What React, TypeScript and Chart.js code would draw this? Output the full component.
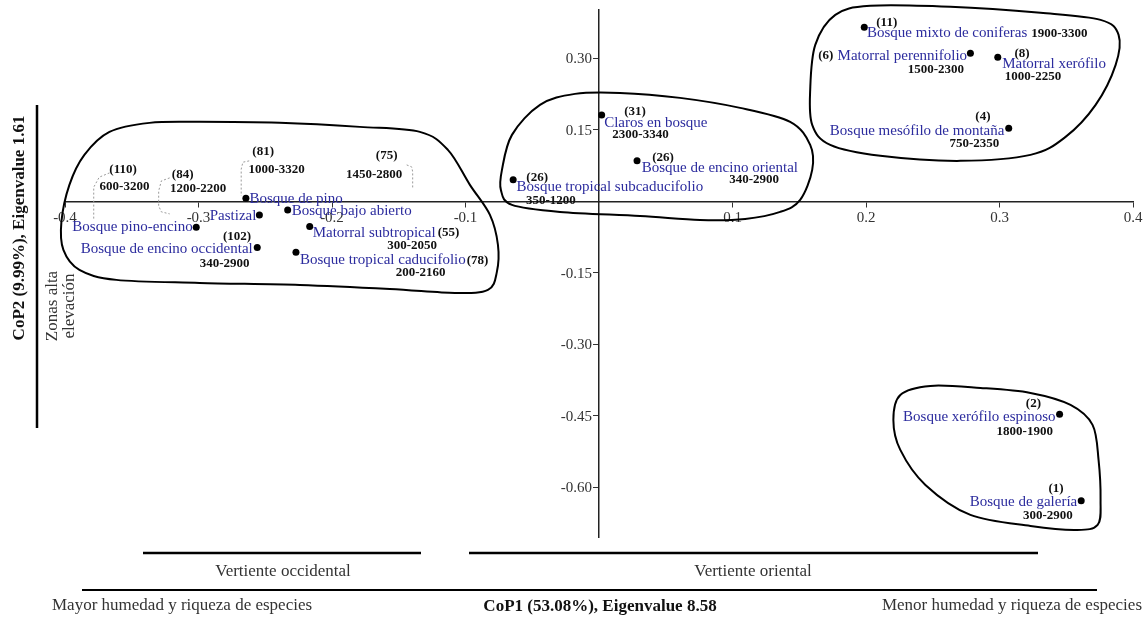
import React, { useEffect, useRef } from "react";
import { Chart, registerables } from "chart.js";

Chart.register(...registerables);

// ---------------- DATA ----------------
const vegetationTypes = [
  "Bosque de pino",
  "Pastizal",
  "Bosque bajo abierto",
  "Bosque pino-encino",
  "Bosque de encino occidental",
  "Matorral subtropical",
  "Bosque tropical caducifolio",
  "Claros en bosque",
  "Bosque de encino oriental",
  "Bosque tropical subcaducifolio",
  "Bosque mixto de coniferas",
  "Matorral perennifolio",
  "Matorral xerófilo",
  "Bosque mesófilo de montaña",
  "Bosque xerófilo espinoso",
  "Bosque de galería",
];

const cop1Scores = [
  -0.2645, -0.2544, -0.2332, -0.3017, -0.256, -0.2167, -0.227, 0.002, 0.0285,
  -0.0643, 0.1987, 0.2782, 0.2987, 0.3069, 0.345, 0.3612,
];

const cop2Scores = [
  0.0067, -0.0284, -0.0179, -0.0542, -0.0971, -0.0529, -0.1067, 0.1817, 0.0851,
  0.0452, 0.366, 0.3113, 0.3029, 0.1538, -0.4471, -0.6286,
];

const plotCounts = [
  "(81)", "(84)", "(75)", "(110)", "(102)", "(55)", "(78)", "(31)", "(26)",
  "(26)", "(11)", "(6)", "(8)", "(4)", "(2)", "(1)",
];

const elevationRanges = [
  "1000-3320", "1200-2200", "1450-2800", "600-3200", "340-2900", "300-2050",
  "200-2160", "2300-3340", "340-2900", "350-1200", "1900-3300", "1500-2300",
  "1000-2250", "750-2350", "1800-1900", "300-2900",
];

const xTickValues = [-0.4, -0.3, -0.2, -0.1, 0.1, 0.2, 0.3, 0.4];
const yTickValues = [0.3, 0.15, -0.15, -0.3, -0.45, -0.6];

// group outlines (data units)
const hullWest = [
  [-0.4027, -0.0431], [-0.3967, 0.0347], [-0.3855, 0.0977], [-0.3667, 0.146],
  [-0.3367, 0.1649], [-0.2992, 0.167], [-0.2392, 0.1649], [-0.1792, 0.1565],
  [-0.1342, 0.146], [-0.1132, 0.1082], [-0.0967, 0.0347], [-0.0817, -0.0284],
  [-0.0757, -0.0914], [-0.0765, -0.1481], [-0.0832, -0.1859], [-0.108, -0.1922],
  [-0.1567, -0.1838], [-0.2242, -0.1754], [-0.2992, -0.1712], [-0.3615, -0.1649],
  [-0.3892, -0.1439], [-0.4012, -0.1019],
];
const hullCentral = [
  [-0.0727, 0.0662], [-0.0652, 0.1397], [-0.0442, 0.2027], [-0.018, 0.2258],
  [0.0157, 0.2279], [0.0607, 0.2174], [0.1057, 0.1964], [0.1432, 0.167],
  [0.1582, 0.1187], [0.1597, 0.0662], [0.1507, 0.0032], [0.1357, -0.0221],
  [0.1095, -0.0368], [0.0757, -0.0389], [0.0307, -0.0305], [-0.0292, -0.0221],
  [-0.0652, -0.0074], [-0.0735, 0.0242],
];
const hullNorthEast = [
  [0.1582, 0.2342], [0.162, 0.3288], [0.177, 0.3918], [0.2032, 0.4107],
  [0.2632, 0.4086], [0.3307, 0.396], [0.3757, 0.3813], [0.3892, 0.3498],
  [0.387, 0.2868], [0.372, 0.2027], [0.3495, 0.1355], [0.3232, 0.0977],
  [0.2707, 0.0851], [0.2107, 0.0956], [0.1732, 0.1187], [0.1597, 0.1607],
];
const hullSouthEast = [
  [0.2205, -0.459], [0.2257, -0.4065], [0.2482, -0.3876], [0.2857, -0.3918],
  [0.3232, -0.4023], [0.3532, -0.4275], [0.3697, -0.4695], [0.3742, -0.5431],
  [0.3757, -0.6271], [0.3735, -0.6796], [0.357, -0.6901], [0.3232, -0.6817],
  [0.2782, -0.6586], [0.2445, -0.5956], [0.2257, -0.5221],
];
const groupOutlines = [hullWest, hullCentral, hullNorthEast, hullSouthEast];

// ---------------- STYLE / LAYOUT ----------------
const SERIF = "'Liberation Serif', 'Times New Roman', serif";
const BLUE = "rgb(44, 44, 158)";

// [dx, dy, align] offsets of the name, count and range texts from each point
const labelLayout = [
  { name: [3.5, 1, "left"], count: [17.3, -46.3, "center"], range: [30.8, -28.3, "center"] },
  { name: [-3, 1, "right"], count: [-76.7, -40, "center"], range: [-61.2, -26, "center"] },
  { name: [4, 1.5, "left"], count: [99, -54.3, "center"], range: [86.5, -35, "center"] },
  { name: [-3.5, 0, "right"], count: [-73.2, -57.3, "center"], range: [-71.7, -40.6, "center"] },
  { name: [-4.5, 1.5, "right"], count: [-20.2, -11, "center"], range: [-32.7, 15.6, "center"] },
  { name: [3, 7, "left"], count: [128, 6.3, "left"], range: [102.5, 19.3, "center"] },
  { name: [4, 7.5, "left"], count: [170.7, 8.4, "left"], range: [124.7, 20, "center"] },
  { name: [2.5, 7.7, "left"], count: [33.3, -3.3, "center"], range: [38.8, 20, "center"] },
  { name: [4.7, 7.3, "left"], count: [26, -3.7, "center"], range: [117, 18.3, "center"] },
  { name: [3.4, 7.3, "left"], count: [24, -2.3, "center"], range: [37.7, 20.7, "center"] },
  { name: [2.7, 6, "left"], count: [22.5, -4, "center"], range: [167, 7, "left"] },
  { name: [-3.3, 2.7, "right"], count: [-137, 2.7, "right"], range: [-34.5, 16, "center"] },
  { name: [4.4, 6.7, "left"], count: [24.2, -4, "center"], range: [35.2, 19.4, "center"] },
  { name: [-4.3, 2.7, "right"], count: [-25.8, -11.6, "center"], range: [-34.3, 15.7, "center"] },
  { name: [-4, 2.4, "right"], count: [-26.2, -11, "center"], range: [-34.8, 17.4, "center"] },
  { name: [-4, 1, "right"], count: [-25.2, -12.4, "center"], range: [-33.4, 15.3, "center"] },
];

// dotted brackets (offsets from the point they belong to)
const bracketLayout = [
  { index: 3, path: [[-86.7, -54.3], [-97, -50], [-102.5, -40], [-102.5, -7]] },
  { index: 1, path: [[-89.7, -37], [-98, -34], [-100.7, -24], [-100.7, -9], [-98, -3], [-89.7, -1]] },
  { index: 0, path: [[3.3, -37.3], [-3, -36], [-4.7, -29], [-4.7, -2.3]] },
  { index: 2, path: [[119, -45], [124, -43], [125, -38], [125, -22]] },
];

function drawClosedSpline(ctx: CanvasRenderingContext2D, pts: number[][]) {
  const n = pts.length;
  ctx.beginPath();
  ctx.moveTo(pts[0][0], pts[0][1]);
  for (let i = 0; i < n; i++) {
    const p0 = pts[(i - 1 + n) % n];
    const p1 = pts[i];
    const p2 = pts[(i + 1) % n];
    const p3 = pts[(i + 2) % n];
    const c1x = p1[0] + (p2[0] - p0[0]) / 6;
    const c1y = p1[1] + (p2[1] - p0[1]) / 6;
    const c2x = p2[0] - (p3[0] - p1[0]) / 6;
    const c2y = p2[1] - (p3[1] - p1[1]) / 6;
    ctx.bezierCurveTo(c1x, c1y, c2x, c2y, p2[0], p2[1]);
  }
  ctx.closePath();
  ctx.stroke();
}

const hullPlugin = {
  id: "groupHulls",
  beforeDatasetsDraw(chart: any) {
    const { ctx, scales } = chart;
    ctx.save();
    ctx.strokeStyle = "#000";
    ctx.lineWidth = 2;
    groupOutlines.forEach((hull) => {
      const pts = hull.map(([vx, vy]) => [
        scales.x.getPixelForValue(vx),
        scales.y.getPixelForValue(vy),
      ]);
      drawClosedSpline(ctx, pts);
    });
    ctx.restore();
  },
};

// y tick labels sit left of the centred axis (Chart.js puts them on the axis)
const yTickLabelPlugin = {
  id: "yTickLabels",
  afterDraw(chart: any) {
    const { ctx, scales } = chart;
    const ys = scales.y;
    const x0 = scales.x.getPixelForValue(0);
    ctx.save();
    ctx.font = `15px ${SERIF}`;
    ctx.fillStyle = "#333";
    ctx.textAlign = "right";
    ctx.textBaseline = "middle";
    ys.ticks.forEach((t: any) => {
      ctx.fillText(Number(t.value).toFixed(2), x0 - 7, ys.getPixelForValue(t.value) + 1);
    });
    ctx.restore();
  },
};

const labelPlugin = {
  id: "pointLabels",
  afterDatasetsDraw(chart: any) {
    const { ctx } = chart;
    const meta = chart.getDatasetMeta(0);
    ctx.save();
    ctx.textBaseline = "middle";
    ctx.strokeStyle = "#9a9a9a";
    ctx.lineWidth = 1;
    ctx.setLineDash([2, 2]);
    bracketLayout.forEach((b) => {
      const el = meta.data[b.index];
      ctx.beginPath();
      b.path.forEach(([dx, dy], k) => {
        if (k === 0) ctx.moveTo(el.x + dx, el.y + dy);
        else ctx.lineTo(el.x + dx, el.y + dy);
      });
      ctx.stroke();
    });
    ctx.setLineDash([]);
    meta.data.forEach((el: any, i: number) => {
      const lay = labelLayout[i];
      ctx.font = `15px ${SERIF}`;
      ctx.fillStyle = BLUE;
      ctx.textAlign = lay.name[2];
      ctx.fillText(vegetationTypes[i], el.x + lay.name[0], el.y + lay.name[1]);
      ctx.font = `bold 13px ${SERIF}`;
      ctx.fillStyle = "#111";
      ctx.textAlign = lay.count[2];
      ctx.fillText(plotCounts[i], el.x + lay.count[0], el.y + lay.count[1]);
      ctx.textAlign = lay.range[2];
      ctx.fillText(elevationRanges[i], el.x + lay.range[0], el.y + lay.range[1]);
    });
    ctx.restore();
  },
};

const framePlugin = {
  id: "frameTexts",
  afterDraw(chart: any) {
    const { ctx } = chart;
    ctx.save();
    ctx.strokeStyle = "#000";
    ctx.fillStyle = "#111";
    ctx.lineCap = "butt";
    ctx.lineWidth = 2.5;
    ctx.beginPath();
    ctx.moveTo(37, 105);
    ctx.lineTo(37, 428);
    ctx.stroke();
    ctx.beginPath();
    ctx.moveTo(143, 553);
    ctx.lineTo(421, 553);
    ctx.moveTo(469, 553);
    ctx.lineTo(1038, 553);
    ctx.stroke();
    ctx.lineWidth = 2;
    ctx.beginPath();
    ctx.moveTo(82, 590);
    ctx.lineTo(1097, 590);
    ctx.stroke();

    ctx.textBaseline = "middle";
    ctx.save();
    ctx.translate(20, 228);
    ctx.rotate(-Math.PI / 2);
    ctx.textAlign = "center";
    ctx.font = `bold 17px ${SERIF}`;
    ctx.fillText("CoP2 (9.99%), Eigenvalue 1.61", 0, 0);
    ctx.restore();

    ctx.save();
    ctx.translate(53, 306);
    ctx.rotate(-Math.PI / 2);
    ctx.textAlign = "center";
    ctx.font = `17px ${SERIF}`;
    ctx.fillStyle = "#333";
    ctx.fillText("Zonas alta", 0, 0);
    ctx.fillText("elevación", 0, 17);
    ctx.restore();

    ctx.font = `17px ${SERIF}`;
    ctx.fillStyle = "#333";
    ctx.textAlign = "center";
    ctx.fillText("Vertiente occidental", 283, 572);
    ctx.fillText("Vertiente oriental", 753, 572);
    ctx.textAlign = "left";
    ctx.fillText("Mayor humedad y riqueza de especies", 52, 606);
    ctx.textAlign = "right";
    ctx.fillText("Menor humedad y riqueza de especies", 1142, 606);
    ctx.textAlign = "center";
    ctx.font = `bold 17px ${SERIF}`;
    ctx.fillStyle = "#111";
    ctx.fillText("CoP1 (53.08%), Eigenvalue 8.58", 600, 607);
    ctx.restore();
  },
};

export default function App() {
  const canvasRef = useRef<HTMLCanvasElement | null>(null);

  useEffect(() => {
    const canvas = canvasRef.current;
    if (!canvas) return;
    const points = cop1Scores.map((x, i) => ({ x, y: cop2Scores[i] }));
    const tickFont = { family: SERIF, size: 15 };
    const chart = new Chart(canvas, {
      type: "scatter",
      data: {
        datasets: [
          {
            data: points,
            pointRadius: 3.5,
            pointBackgroundColor: "#000",
            pointBorderColor: "#000",
            pointBorderWidth: 0,
          },
        ],
      },
      options: {
        animation: false,
        responsive: false,
        maintainAspectRatio: false,
        events: [],
        layout: { padding: { left: 65, right: 13, top: 10, bottom: 80 } },
        plugins: { legend: { display: false }, tooltip: { enabled: false } },
        scales: {
          x: {
            type: "linear",
            min: -0.4,
            max: 0.4,
            position: { y: 0 } as any,
            afterBuildTicks: (s: any) => {
              s.ticks = xTickValues.map((v) => ({ value: v }));
            },
            grid: {
              display: true,
              drawOnChartArea: false,
              drawTicks: true,
              tickLength: 5,
              color: "#333",
              lineWidth: 1,
            },
            border: { display: true, color: "#222", width: 1.5 },
            ticks: {
              autoSkip: false,
              maxRotation: 0,
              padding: 3,
              color: "#333",
              font: tickFont,
              callback: (v: any) => Number(v).toFixed(1),
            },
          },
          y: {
            type: "linear",
            min: -0.705,
            max: 0.402,
            position: { x: 0 } as any,
            afterBuildTicks: (s: any) => {
              s.ticks = yTickValues.map((v) => ({ value: v }));
            },
            grid: {
              display: true,
              drawOnChartArea: false,
              drawTicks: true,
              tickLength: 5,
              color: "#333",
              lineWidth: 1,
            },
            border: { display: true, color: "#222", width: 1.5 },
            ticks: { display: false, autoSkip: false },
          },
        },
      },
      plugins: [hullPlugin, labelPlugin, yTickLabelPlugin, framePlugin],
    });
    return () => chart.destroy();
  }, []);

  return (
    <div style={{ position: "absolute", left: 0, top: 0, width: 1146, height: 617, background: "#fff" }}>
      <canvas ref={canvasRef} width={1146} height={617} style={{ display: "block" }} />
    </div>
  );
}
